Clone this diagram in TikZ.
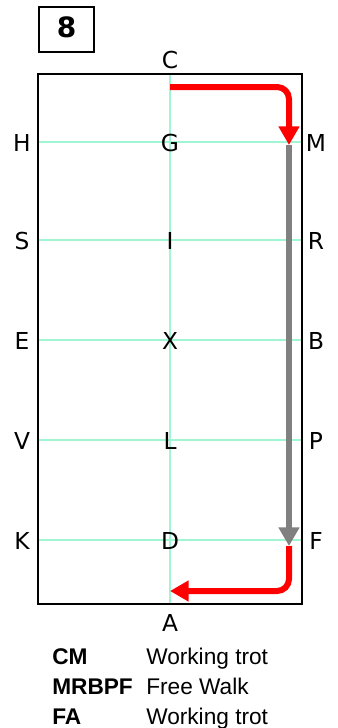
\documentclass[tikz,border=0pt]{standalone}
\usepackage{fontspec}
\setmainfont{DejaVu Sans}
\newfontfamily\legendfont{Liberation Sans}
\usepackage{xcolor}
\usetikzlibrary{arrows.meta, positioning}
\definecolor{arenaline}{RGB}{160,245,210}
\definecolor{walkgray}{RGB}{128,128,128}

\begin{document}
\begin{tikzpicture}[x=0.75pt, y=-0.75pt,
    letter/.style={anchor=base, inner sep=0pt, font=\fontsize{17.5}{17.5}\selectfont},
    trot/.style={draw=red, line width=4.5pt, rounded corners=9pt, -{Triangle[width=15pt, length=14pt]}},
    walk/.style={draw=walkgray, line width=5pt, -{Triangle[width=15pt, length=14pt]}},
    legend/.style={anchor=base west, inner sep=0pt, font=\legendfont\fontsize{17}{17}\selectfont}]

        \useasboundingbox (0,0) rectangle (338,728);

        % Test number
        \draw[line width=1.5pt] (39,7) rectangle (94,52);
        \node[anchor=base, inner sep=0pt, font=\bfseries\fontsize{21}{21}\selectfont] (num) at (66.5,37) {8};

        % Arena guide lines
        \draw[arenaline, line width=0.8pt] (170,74) -- (170,604);
        \foreach \y in {142,240,340,440,540}
            \draw[arenaline, line width=0.8pt] (38,\y) -- (302,\y);

        % Arena fence
        \draw[line width=1.8pt] (38,74) rectangle (302,604);

        % Markers
        \node[letter] (C) at (170,68) {C};
        \node[letter] (A) at (170,631) {A};
        \foreach \y/\l/\c/\r in {142/H/G/M, 240/S/I/R, 340/E/X/B, 440/V/L/P, 540/K/D/F} {
            \node[letter] (\l) at (22,\y+9) {\l};
            \node[letter] (\c) at (170,\y+9) {\c};
            \node[letter] (\r) at (316,\y+9) {\r};
        }

        % Track points
        \coordinate (start) at (170,87);
        \coordinate (cornerM) at (289,87);
        \coordinate (atM) at (289,145);
        \coordinate (atF) at (289,546);
        \coordinate (cornerF) at (289,591);
        \coordinate (atA) at (170,591);

        % Route
        \draw[trot] (start) -- (cornerM) -- (atM);
        \draw[trot] (atF) -- (cornerF) -- (atA);
        \draw[walk] (atM) -- (atF);

        % Legend
        \node[legend, font=\legendfont\bfseries\fontsize{17}{17}\selectfont] (cm) at (52,664) {CM};
        \node[legend] (cmtext) at (146,664) {Working trot};
        \node[legend, font=\legendfont\bfseries\fontsize{17}{17}\selectfont] (mrbpf) at (52,694) {MRBPF};
        \node[legend] (mrbpftext) at (146,694) {Free Walk};
        \node[legend, font=\legendfont\bfseries\fontsize{17}{17}\selectfont] (fa) at (52,724) {FA};
        \node[legend] (fatext) at (146,724) {Working trot};

    \end{tikzpicture}
\end{document}
